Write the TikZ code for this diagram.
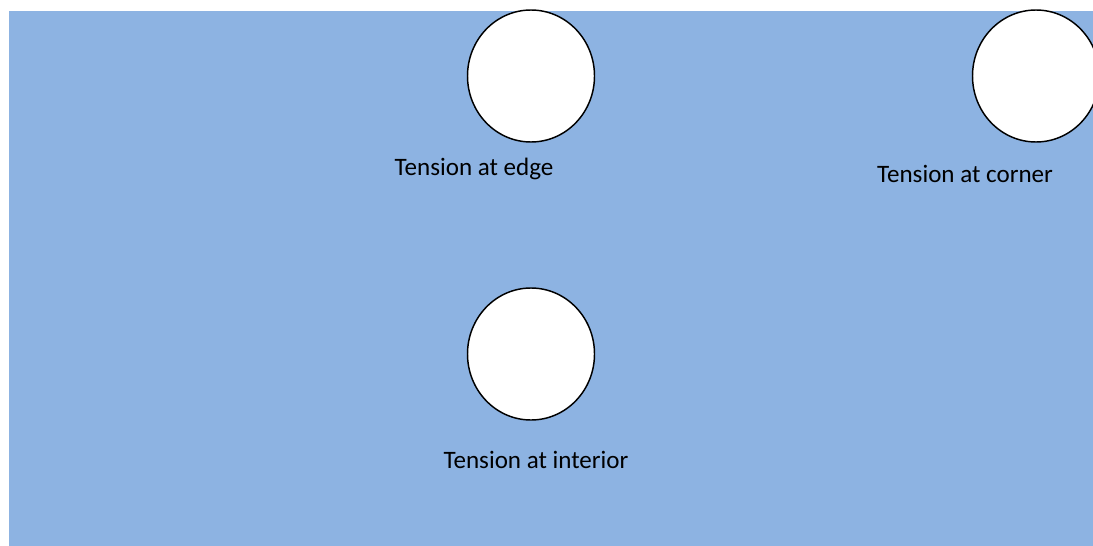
\documentclass[tikz,border=0pt]{standalone}
\usepackage{fontspec}
\setmainfont{Carlito}
\usepackage{xcolor}
\usetikzlibrary{shapes.geometric}

\definecolor{sheetblue}{RGB}{141,179,226}

\begin{document}
\begin{tikzpicture}[x=0.75pt, y=-0.75pt,
  hole/.style={ellipse, draw, fill=white, line width=1.1pt,
    minimum width=95.25pt, minimum height=99pt, inner sep=0pt},
  caption/.style={font=\fontsize{18.8}{22}\selectfont, inner sep=0pt}
]
  \useasboundingbox (0,0) rectangle (1093,546);
  \clip (0,0) rectangle (1093,546);
  \fill[sheetblue] (9,11) rectangle (1093,546);

  % holes in the sheet
  \node[hole] (edge) at (531,76) {};
  \node[hole] (corner) at (1036,76) {};
  \node[hole] (interior) at (531,354) {};

  % labels
  \node[caption] (edgelbl) at (474,169) {Tension at edge};
  \node[caption] (cornerlbl) at (965,174) {Tension at corner};
  \node[caption] (interiorlbl) at (536,460) {Tension at interior};
\end{tikzpicture}
\end{document}
